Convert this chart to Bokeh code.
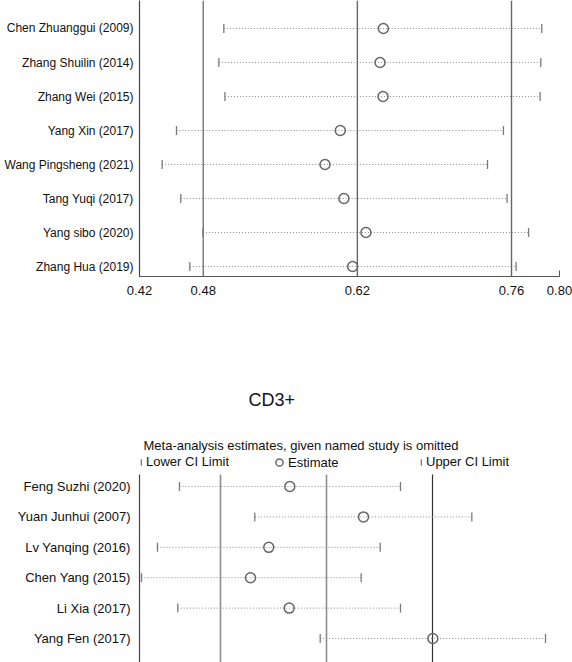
from bokeh.plotting import figure
from bokeh.models import (Range1d, ColumnDataSource, Legend, LegendItem, Label,
                          FixedTicker, Span)
from bokeh.layouts import column
from bokeh.embed import file_html
from bokeh.resources import INLINE

FONT = "Liberation Sans"
TXT = "#111111"

# ---- top panel (partially visible) ----
top_studies = ["Chen Zhuanggui (2009)", "Zhang Shuilin (2014)", "Zhang Wei (2015)",
               "Yang Xin (2017)", "Wang Pingsheng (2021)", "Tang Yuqi (2017)",
               "Yang sibo (2020)", "Zhang Hua (2019)"]
top_est = [0.6436, 0.6406, 0.6433, 0.6045, 0.5906, 0.6078, 0.6278, 0.6157]
top_lower = [0.4987, 0.4942, 0.4997, 0.4557, 0.4427, 0.4596, 0.4797, 0.4678]
top_upper = [0.7875, 0.7866, 0.7860, 0.7527, 0.7382, 0.7560, 0.7755, 0.7642]
top_overall = [0.48, 0.62, 0.76]
top_ticks = [0.4221, 0.48, 0.62, 0.76, 0.8036]
top_tick_labels = ["0.42", "0.48", "0.62", "0.76", "0.80"]

# ---- bottom panel: CD3+ ----
bot_title = "CD3+"
bot_subtitle = "Meta-analysis estimates, given named study is omitted"
legend_labels = ["Lower CI Limit", "Estimate", "Upper CI Limit"]
bot_studies = ["Feng Suzhi (2020)", "Yuan Junhui (2007)", "Lv Yanqing (2016)",
               "Chen Yang (2015)", "Li Xia (2017)", "Yang Fen (2017)"]
bot_est = [0.5308, 0.6698, 0.4911, 0.4566, 0.5296, 0.8006]
bot_lower = [0.3226, 0.4647, 0.2811, 0.2509, 0.3194, 0.5881]
bot_upper = [0.7396, 0.8742, 0.7013, 0.6654, 0.7396, 1.0132]
bot_overall = [0.40, 0.60, 0.80]
bot_xlim = [0.2472, 1.0396]


def make_panel(studies, est, lower, upper, xr, yr, height, border_bottom,
               label_size, label_standoff):
    p = figure(width=572, height=height, output_backend="svg", toolbar_location=None,
               x_range=Range1d(*xr), y_range=Range1d(*yr),
               min_border_left=139, min_border_right=13,
               min_border_top=0, min_border_bottom=border_bottom)
    p.outline_line_color = None
    p.grid.visible = False
    p.background_fill_color = "white"
    p.border_fill_color = "white"

    rows = list(range(len(studies)))
    src = ColumnDataSource(dict(row=rows, est=est, lo=lower, hi=upper))

    p.segment(x0="lo", y0="row", x1="hi", y1="row", source=src,
              line_color="#8c8c8c", line_width=1, line_dash="1 2")
    r_lo = p.rect(x="lo", y="row", width=1.3, height=9, width_units="screen",
                  height_units="screen", source=src, fill_color="#7a7a7a", line_color=None)
    r_est = p.scatter(x="est", y="row", source=src, marker="circle", size=10,
                      fill_color=None, line_color="#666666", line_width=1.5)
    r_hi = p.rect(x="hi", y="row", width=1.3, height=9, width_units="screen",
                  height_units="screen", source=src, fill_color="#7a7a7a", line_color=None)

    p.yaxis.ticker = FixedTicker(ticks=rows)
    p.yaxis.major_label_overrides = {i: s for i, s in zip(rows, studies)}
    p.yaxis.major_label_text_font = FONT
    p.yaxis.major_label_text_font_size = label_size
    p.yaxis.major_label_text_color = TXT
    p.yaxis.major_label_standoff = label_standoff
    p.yaxis.major_tick_in = 0
    p.yaxis.major_tick_out = 0
    p.yaxis.minor_tick_line_color = None
    p.yaxis.axis_line_color = "#444444"
    p.yaxis.axis_line_width = 1.2
    return p, src, (r_lo, r_est, r_hi)


# ---------- top figure: frame from y 0 to 276 ----------
p1, src1, _ = make_panel(top_studies, top_est, top_lower, top_upper,
                         (top_ticks[0], top_ticks[-1]), (7.294, -0.8235), 302, 26,
                         "12px", 6)
for v, c in zip(top_overall, ["#777777", "#666666", "#666666"]):
    p1.add_layout(Span(location=v, dimension="height", line_color=c, line_width=1.4))
p1.xaxis.ticker = FixedTicker(ticks=top_ticks)
p1.xaxis.major_label_overrides = {t: l for t, l in zip(top_ticks, top_tick_labels)}
p1.xaxis.axis_line_color = "#555555"
p1.xaxis.axis_line_width = 1.2
p1.xaxis.major_tick_in = 6
p1.xaxis.major_tick_out = 0
p1.xaxis.major_tick_line_color = "#555555"
p1.xaxis.minor_tick_line_color = None
p1.xaxis.major_label_standoff = 9
p1.xaxis.major_label_text_font = FONT
p1.xaxis.major_label_text_font_size = "13px"
p1.xaxis.major_label_text_color = TXT

# ---------- bottom figure: header + plot region (frame from y 302 to 662) ----------
PANEL_TOP = -0.395     # row coordinate where the plot region of the panel begins
Y_BOTTOM = 5.789
p2, src2, (r_lo, r_est, r_hi) = make_panel(bot_studies, bot_est, bot_lower, bot_upper,
                                           bot_xlim, (Y_BOTTOM, -6.053), 360, 0,
                                           "13px", 9)
p2.xaxis.visible = False
p2.yaxis.bounds = (PANEL_TOP, Y_BOTTOM)
ref = ColumnDataSource(dict(x=bot_overall, c=["#8f8f8f", "#8f8f8f", "#333333"],
                            w=[1.6, 1.6, 1.2]))
p2.segment(x0="x", y0=PANEL_TOP, x1="x", y1=Y_BOTTOM, source=ref,
           line_color="c", line_width="w", level="underlay")

p2.add_layout(Label(x=109, y=-2.862, x_units="screen", y_units="data", text=bot_title,
                    text_font=FONT, text_font_size="18px", text_color=TXT,
                    text_baseline="middle", text_align="left"))
p2.add_layout(Label(x=4, y=-1.349, x_units="screen", y_units="data", text=bot_subtitle,
                    text_font=FONT, text_font_size="13px", text_color=TXT,
                    text_baseline="middle", text_align="left"))

common = dict(orientation="horizontal", padding=0, margin=0, spacing=0,
              border_line_color=None, background_fill_alpha=0,
              label_text_font=FONT, label_text_font_size="13px",
              label_text_color=TXT, label_height=14)
p2.add_layout(Legend(items=[LegendItem(label=legend_labels[0], renderers=[r_lo])],
                     location=(1, 193), glyph_width=2, glyph_height=8,
                     label_standoff=4, **common))
p2.add_layout(Legend(items=[LegendItem(label=legend_labels[1], renderers=[r_est])],
                     location=(131, 191), glyph_width=18, glyph_height=18,
                     label_standoff=0, **common))
p2.add_layout(Legend(items=[LegendItem(label=legend_labels[2], renderers=[r_hi])],
                     location=(281, 193), glyph_width=2, glyph_height=8,
                     label_standoff=4, **common))

layout = column(p1, p2, spacing=0)
open("out.html", "w").write(file_html(layout, INLINE))
